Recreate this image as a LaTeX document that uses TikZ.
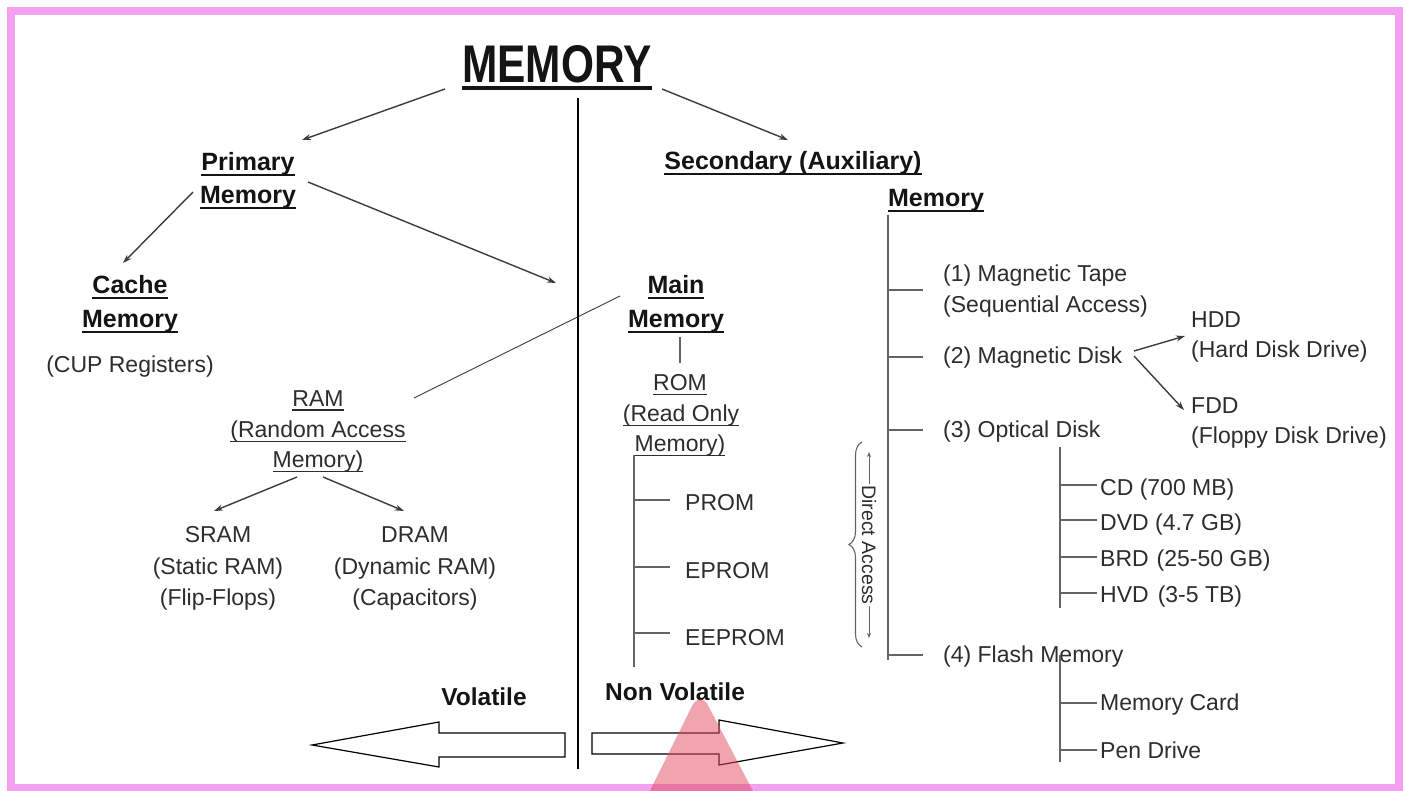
\documentclass[tikz,border=0pt]{standalone}
\usepackage{fontspec}
\setmainfont{Liberation Sans}
\usetikzlibrary{decorations.pathreplacing,arrows.meta}
\definecolor{pinkb}{RGB}{243,160,240}
\definecolor{txt}{RGB}{45,45,45}
\definecolor{hdc}{RGB}{20,20,20}
\definecolor{ln}{RGB}{60,60,60}
\definecolor{trc}{RGB}{100,100,100}
\definecolor{tri}{RGB}{225,75,95}
\newcommand\ulx[3]{\leavevmode\setbox0\hbox{#3}\rlap{\rule[#1]{\wd0}{#2}}\box0}
\newcommand\ulb[1]{\ulx{-5.5pt}{2pt}{#1}}
\newcommand\ulr[1]{\ulx{-5pt}{1.5pt}{#1}}
\begin{document}
\begin{tikzpicture}[x=1pt,y=-1pt,
  reg/.style={font=\fontsize{23}{28}\selectfont, text=txt, inner sep=0pt},
  regc/.style={reg, anchor=base},
  regl/.style={reg, anchor=base west},
  head/.style={font=\fontsize{25}{30}\selectfont\bfseries, text=hdc, inner sep=0pt, anchor=base},
  conn/.style={draw=ln, line width=1.4pt},
  arr/.style={conn, -{Stealth[length=9pt,width=6pt]}},
  tree/.style={draw=trc, line width=1.8pt},
  bigarrow/.style={draw=black, line width=1.2pt, fill=white, line join=miter}
]
\useasboundingbox (0,0) rectangle (1405,791);
\fill[white] (0,0) rectangle (1405,791);
\draw[pinkb, line width=8pt] (11,11.5) rectangle (1398.5,788);

% ---------- title ----------
\node[head] (mem) at (557,83) {\scalebox{0.8}[1]{\fontsize{53}{60}\selectfont\ulx{-7pt}{3.5pt}{MEMORY}}};

% ---------- primary side ----------
\node[head] (pm1) at (248,171) {\ulb{Primary}};
\node[head] (pm2) at (248,204) {\ulb{Memory}};
\node[head] (cm1) at (130,294) {\ulb{Cache}};
\node[head] (cm2) at (130,328) {\ulb{Memory}};
\node[regc] (cup) at (130,373) {(CUP Registers)};
\node[head] (mm1) at (676,294) {\ulb{Main}};
\node[head] (mm2) at (676,328) {\ulb{Memory}};
\node[regc] (rom1) at (680,390) {\ulr{ROM}};
\node[regc] (rom2) at (681,421) {\ulr{(Read Only}};
\node[regc] (rom3) at (680,451) {\ulr{Memory)}};
\node[regc] (ram1) at (318,406) {\ulr{RAM}};
\node[regc] (ram2) at (318,437) {\ulr{(Random Access}};
\node[regc] (ram3) at (318,467) {\ulr{Memory)}};
\node[regc] (sr1) at (218,542) {SRAM};
\node[regc] (sr2) at (218,574) {(Static RAM)};
\node[regc] (sr3) at (218,605) {(Flip-Flops)};
\node[regc] (dr1) at (415,542) {DRAM};
\node[regc] (dr2) at (415,574) {(Dynamic RAM)};
\node[regc] (dr3) at (415,605) {(Capacitors)};
\node[regl] (prom) at (685,510) {PROM};
\node[regl] (eprom) at (685,578) {EPROM};
\node[regl] (eeprom) at (685,645) {EEPROM};

% ---------- secondary side ----------
\node[head] (sec1) at (793,170) {\ulb{Secondary (Auxiliary)}};
\node[head] (sec2) at (936,207) {\ulb{Memory}};
\node[regl] (mt1) at (943,282) {(1) Magnetic Tape};
\node[regl] (mt2) at (943,313) {(Sequential Access)};
\node[regl] (md) at (943,363) {(2) Magnetic Disk};
\node[regl] (od) at (943,437) {(3) Optical Disk};
\node[regl] (fm) at (943,662) {(4) Flash Memory};
\node[regl] (hdd1) at (1191,328) {HDD};
\node[regl] (hdd2) at (1191,358) {(Hard Disk Drive)};
\node[regl] (fdd1) at (1191,413) {FDD};
\node[regl] (fdd2) at (1191,443) {(Floppy Disk Drive)};
\node[regl] (cd) at (1100,495) {CD (700 MB)};
\node[regl] (dvd) at (1100,530) {DVD (4.7 GB)};
\node[regl] (brd) at (1100,566) {BRD\hspace{8pt}(25-50 GB)};
\node[regl] (hvd) at (1100,602) {HVD\hspace{9pt}(3-5 TB)};
\node[regl] (mc) at (1100,710) {Memory Card};
\node[regl] (pd) at (1100,758) {Pen Drive};

% ---------- connector end points ----------
\coordinate (a1s) at (445,89);   \coordinate (a1e) at (302,140);
\coordinate (a2s) at (662,89);   \coordinate (a2e) at (788,140);
\coordinate (a3s) at (193,192);  \coordinate (a3e) at (123,263);
\coordinate (a4s) at (308,182);  \coordinate (a4e) at (556,283);
\coordinate (a5s) at (620,296);  \coordinate (a5e) at (414,398);
\coordinate (a6s) at (297,477);  \coordinate (a6e) at (214,511);
\coordinate (a7s) at (323,477);  \coordinate (a7e) at (404,511);
\coordinate (a8s) at (1134,351); \coordinate (a8e) at (1185,336);
\coordinate (a9s) at (1134,356); \coordinate (a9e) at (1184,410);

\draw[arr] (a1s) -- (a1e);
\draw[arr] (a2s) -- (a2e);
\draw[arr] (a3s) -- (a3e);
\draw[arr] (a4s) -- (a4e);
\draw[draw=ln, line width=0.9pt] (a5s) -- (a5e);
\draw[arr] (a6s) -- (a6e);
\draw[arr] (a7s) -- (a7e);
\draw[arr] (a8s) -- (a8e);
\draw[arr] (a9s) -- (a9e);

% separator
\coordinate (sepT) at (578,98); \coordinate (sepB) at (578,769);
\draw[black, line width=1.3pt] (sepT) -- (sepB);

% ROM tree
\coordinate (mr1) at (680,337); \coordinate (mr2) at (680,363);
\draw[tree] (mr1) -- (mr2);
\coordinate (rt) at (634,455); \coordinate (rb) at (634,667);
\draw[tree] (rt) -- (rb);
\draw[tree] (634,500) -- (670,500);
\draw[tree] (634,567) -- (670,567);
\draw[tree] (634,633) -- (670,633);

% secondary tree
\coordinate (st) at (888,215); \coordinate (sb) at (888,660);
\draw[tree] (st) -- (sb);
\foreach \yy in {290,357,430,655} \draw[tree] (888,\yy) -- (923,\yy);

% optical tree
\coordinate (ot) at (1060,447); \coordinate (ob) at (1060,608);
\draw[tree] (ot) -- (ob);
\foreach \yy in {485,520,557,593} \draw[tree] (1060,\yy) -- (1097,\yy);

% flash tree
\coordinate (ft) at (1060,655); \coordinate (fb) at (1060,762);
\draw[tree] (ft) -- (fb);
\foreach \yy in {703,750} \draw[tree] (1060,\yy) -- (1097,\yy);

% direct access brace
\draw[decorate, decoration={brace, amplitude=13pt}, draw=trc, line width=1.1pt] (862,647) -- (862,442);
\node[rotate=-90, font=\fontsize{19.5}{22}\selectfont, text=txt, inner sep=1pt] (da) at (869,545) {Direct Access};
\coordinate (dat) at (869,452); \coordinate (dab) at (869,638);
\draw[draw=trc, line width=1pt, -{Stealth[length=5pt,width=4pt]}] (da.west) -- (dat);
\draw[draw=trc, line width=1pt, -{Stealth[length=5pt,width=4pt]}] (da.east) -- (dab);

% volatile / non volatile
\node[head, font=\fontsize{24.5}{30}\selectfont\bfseries] (vol) at (484,705) {Volatile};
\node[head, font=\fontsize{24.5}{30}\selectfont\bfseries] (nvol) at (675,700) {Non Volatile};

\draw[bigarrow] (565,733) -- (439,733) -- (439,722) -- (312,745) -- (439,767) -- (439,757) -- (565,757) -- cycle;
\draw[bigarrow] (592,733) -- (719,733) -- (719,720) -- (843,743) -- (719,765) -- (719,754) -- (592,754) -- cycle;

% pink triangle overlay
\begin{scope}
\clip (0,0) rectangle (1405,791);
\fill[tri, opacity=0.5, rounded corners=18pt] (628,835) -- (700,690) -- (776,835) -- cycle;
\end{scope}
\end{tikzpicture}
\end{document}
